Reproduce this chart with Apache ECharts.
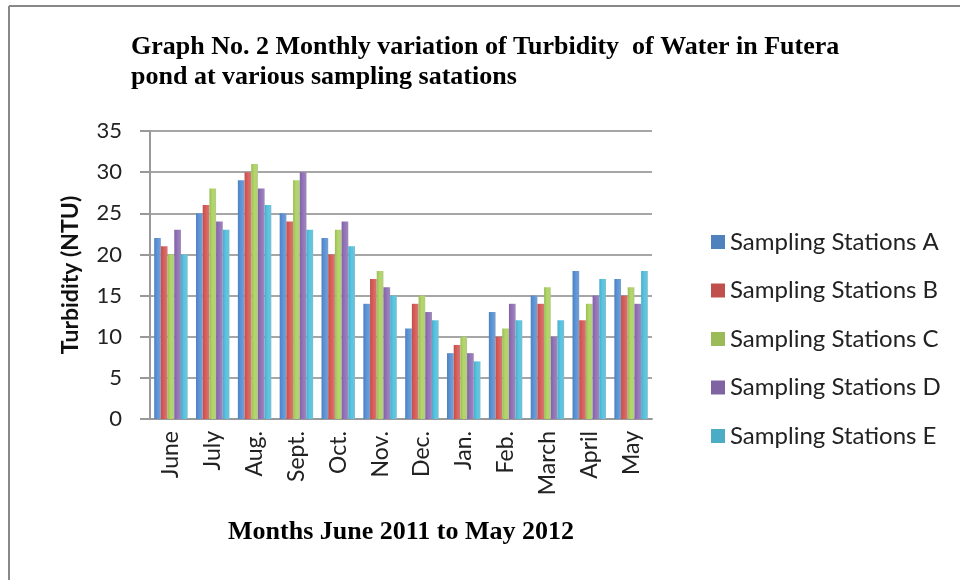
<!DOCTYPE html>
<html>
<head>
<meta charset="utf-8">
<script src="https://cdn.jsdelivr.net/npm/echarts@6/dist/echarts.min.js"></script>
<style>
  html, body { margin: 0; padding: 0; background: #fff; }
  #chart { width: 960px; height: 580px; }
</style>
</head>
<body>
<div id="chart"></div>
<script>
// 月份
const months = ['June', 'July', 'Aug.', 'Sept.', 'Oct.', 'Nov.', 'Dec.', 'Jan.', 'Feb.', 'March', 'April', 'May']
// 各采样站浊度 (NTU)
const stationA = [22, 25, 29, 25, 22, 14, 11, 8, 13, 15, 18, 17]
const stationB = [21, 26, 30, 24, 20, 17, 14, 9, 10, 14, 12, 15]
const stationC = [20, 28, 31, 29, 23, 18, 15, 10, 11, 16, 14, 16]
const stationD = [23, 24, 28, 30, 24, 16, 13, 8, 14, 10, 15, 14]
const stationE = [20, 23, 26, 23, 21, 15, 12, 7, 12, 12, 17, 18]
const seriesNames = ['Sampling Stations A', 'Sampling Stations B', 'Sampling Stations C', 'Sampling Stations D', 'Sampling Stations E']
const colors = ['#4f81bd', '#c0504d', '#9bbb59', '#8064a2', '#4bacc6']

const myChart = echarts.init(document.getElementById('chart'))

// 柱子加一点圆柱感
function barColor (c) {
  return new echarts.graphic.LinearGradient(0, 0, 1, 0, [
    { offset: 0, color: c },
    { offset: 0.45, color: echarts.color.lift(c, -0.15) },
    { offset: 1, color: echarts.color.lift(c, 0.25) }
  ])
}

const allData = [stationA, stationB, stationC, stationD, stationE]
const series = allData.map((d, i) => ({
  name: seriesNames[i],
  type: 'bar',
  data: d,
  barGap: '0%',
  barCategoryGap: '20%',
  itemStyle: { color: barColor(colors[i]) }
}))

const option = {
  color: colors,
  animation: false,
  title: {
    text: 'Graph No. 2 Monthly variation of Turbidity  of Water in Futera\npond at various sampling satations',
    left: 126,
    top: 27,
    textStyle: {
      fontFamily: 'Liberation Serif',
      fontWeight: 'bold',
      fontSize: 26,
      lineHeight: 30,
      color: '#000'
    }
  },
  legend: {
    orient: 'vertical',
    left: 706,
    top: 225,
    itemWidth: 14,
    itemHeight: 14,
    itemGap: 24.5,
    icon: 'rect',
    data: seriesNames.map((n, i) => ({ name: n, itemStyle: { color: colors[i] } })),
    textStyle: { fontFamily: 'Lato', fontSize: 24, lineHeight: 24, color: '#222', padding: [0, 0, 0, 0] }
  },
  grid: {
    left: 150,
    right: 308,
    top: 131,
    bottom: 161
  },
  xAxis: {
    type: 'category',
    data: months,
    name: 'Months June 2011 to May 2012',
    nameLocation: 'middle',
    nameGap: 100,
    nameTextStyle: {
      fontFamily: 'Liberation Serif',
      fontWeight: 'bold',
      fontSize: 26,
      color: '#000'
    },
    axisLine: { lineStyle: { color: '#999', width: 2 } },
    axisTick: { show: false },
    axisLabel: {
      rotate: 90,
      margin: 12,
      fontFamily: 'Lato',
      fontSize: 23,
      color: '#222'
    }
  },
  yAxis: {
    type: 'value',
    min: 0,
    max: 35,
    interval: 5,
    name: 'Turbidity (NTU)',
    nameLocation: 'middle',
    nameGap: 68,
    nameTextStyle: {
      fontFamily: 'Lato',
      fontWeight: 'bold',
      fontSize: 23,
      color: '#111'
    },
    axisLine: { show: true, lineStyle: { color: '#999', width: 2 } },
    axisTick: { show: true, length: 10, lineStyle: { color: '#999', width: 2 } },
    splitLine: { lineStyle: { color: '#a6a6a6', width: 2 } },
    axisLabel: {
      margin: 28,
      fontFamily: 'Lato',
      fontSize: 22,
      color: '#222'
    }
  },
  graphic: [
    // 外框（只有上边和左边）
    { type: 'line', shape: { x1: 9, y1: 6, x2: 960, y2: 6 }, style: { stroke: '#888', lineWidth: 2 } },
    { type: 'line', shape: { x1: 9, y1: 6, x2: 9, y2: 580 }, style: { stroke: '#888', lineWidth: 2 } }
  ],
  series: series
}

myChart.setOption(option)
</script>
</body>
</html>
